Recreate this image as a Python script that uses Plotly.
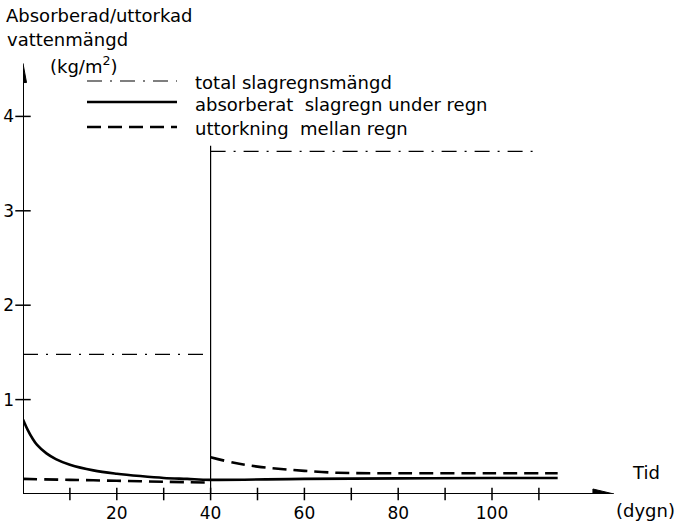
import plotly.graph_objects as go

# ---------------- data ----------------
total_days = [0, 40, None, 40, 110]
total_vals = [1.48, 1.48, None, 3.63, 3.63]

rain_days = [40, 40]
rain_span = [0, 3.69]

abs_days = [0, 1, 2, 3, 5, 7, 10, 15, 20, 25, 30, 35, 40, 60, 80, 100, 114]
abs_vals = [0.79, 0.68, 0.59, 0.52, 0.43, 0.37, 0.31, 0.25, 0.215, 0.19, 0.17,
            0.16, 0.15, 0.16, 0.165, 0.17, 0.17]

dry_days = [0, 10, 20, 30, 40, None, 40, 45, 50, 55, 60, 67, 80, 100, 114]
dry_vals = [0.16, 0.15, 0.14, 0.13, 0.12, None, 0.39, 0.33, 0.29, 0.265, 0.245,
            0.225, 0.22, 0.22, 0.22]

x_tick_marks = [10, 20, 30, 40, 50, 60, 70, 80, 90, 100, 110]
x_tick_labels = [20, 40, 60, 80, 100]
y_tick_marks = [1, 2, 3, 4]
x_axis_end = 126
y_axis_end = 4.56

series_names = ["total slagregnsmängd",
                "absorberat  slagregn under regn",
                "uttorkning  mellan regn"]

# ---------------- layout helpers ----------------
W, H = 677, 522
L, B = 23, 28
PW, PH = W - L, H - B
XSCALE, YSCALE = 4.69, 94.4
FONT = "DejaVu Sans"


def px(p):
    return (p - L) / PW


def py(p):
    return (PH - p) / PH


fig = go.Figure()

fig.add_trace(go.Scatter(x=total_days, y=total_vals, mode="lines",
                         line=dict(color="black", width=1.2, dash="15px,8px,2px,8px"),
                         name=series_names[0], showlegend=False, connectgaps=False))
fig.add_trace(go.Scatter(x=rain_days, y=rain_span, mode="lines",
                         line=dict(color="black", width=1.2),
                         showlegend=False, hoverinfo="skip"))
fig.add_trace(go.Scatter(x=abs_days, y=abs_vals, mode="lines",
                         line=dict(color="black", width=2.6, shape="spline"),
                         name=series_names[1], showlegend=False))
fig.add_trace(go.Scatter(x=dry_days, y=dry_vals, mode="lines",
                         line=dict(color="black", width=2.6, dash="14px,7px", shape="spline"),
                         name=series_names[2], showlegend=False, connectgaps=False))

# tick marks crossing the axes
fig.add_trace(go.Scatter(x=x_tick_marks, y=[0] * len(x_tick_marks), mode="markers",
                         marker=dict(symbol="line-ns", size=9, line=dict(color="black", width=1.5)),
                         showlegend=False, hoverinfo="skip", cliponaxis=False))
fig.add_trace(go.Scatter(x=[0] * len(y_tick_marks), y=y_tick_marks, mode="markers",
                         marker=dict(symbol="line-ew", size=11, line=dict(color="black", width=1.5)),
                         showlegend=False, hoverinfo="skip", cliponaxis=False))

# axes lines
fig.add_shape(type="line", x0=0, y0=0, x1=x_axis_end - 2, y1=0, xref="x", yref="y",
              line=dict(color="black", width=2))
fig.add_shape(type="line", x0=0, y0=0, x1=0, y1=y_axis_end - 0.1, xref="x", yref="y",
              line=dict(color="black", width=2))
# arrowheads
fig.add_shape(type="path", xref="x", yref="y", xsizemode="pixel", ysizemode="pixel",
              xanchor=x_axis_end, yanchor=0, path="M0,0 L-21,5 L-21,-5 Z",
              fillcolor="black", line=dict(color="black", width=1))
fig.add_shape(type="path", xref="x", yref="y", xsizemode="pixel", ysizemode="pixel",
              xanchor=0, yanchor=y_axis_end, path="M0,0 L-3.5,-19 L3.5,-19 Z",
              fillcolor="black", line=dict(color="black", width=1))

# legend (drawn)
leg_rows = [81, 102, 127]
leg_dash = ["15px,8px,2px,8px", "solid", "14px,7px"]
leg_w = [1.2, 2.6, 2.6]
text_rows = [82, 104, 128]
for i in range(3):
    fig.add_shape(type="line", xref="paper", yref="paper",
                  x0=px(87), x1=px(177), y0=py(leg_rows[i]), y1=py(leg_rows[i]),
                  line=dict(color="black", width=leg_w[i], dash=leg_dash[i]))
    fig.add_annotation(text=series_names[i], xref="paper", yref="paper",
                       x=px(193), y=py(text_rows[i]), xanchor="left", yanchor="middle",
                       showarrow=False, font=dict(family=FONT, size=18, color="black"))


def label(text, x, y, size=18):
    fig.add_annotation(text=text, xref="paper", yref="paper", x=px(x), y=py(y),
                       xanchor="left", yanchor="middle", showarrow=False,
                       font=dict(family=FONT, size=size, color="black"))


label("Absorberad/uttorkad", 4, 16)
label("vattenmängd", 5, 40)
label("(kg/m<sup>2</sup>)", 48, 65)
label("Tid", 630, 472)
label("(dygn)", 614, 511)

fig.update_layout(
    width=W, height=H,
    margin=dict(l=L, r=0, t=0, b=B, autoexpand=False),
    paper_bgcolor="white", plot_bgcolor="white",
    xaxis=dict(range=[0, PW / XSCALE], showgrid=False, zeroline=False, showline=False,
               automargin=False,
               tickvals=x_tick_labels, ticktext=[str(v) for v in x_tick_labels],
               ticks="", ticklabelstandoff=7,
               tickfont=dict(family=FONT, size=17, color="black")),
    yaxis=dict(range=[0, PH / YSCALE], showgrid=False, zeroline=False, showline=False,
               automargin=False,
               tickvals=y_tick_marks, ticktext=[str(v) for v in y_tick_marks],
               ticks="", ticklabelstandoff=8,
               tickfont=dict(family=FONT, size=17, color="black")),
    showlegend=False,
)

fig.write_html("out.html", config={"displayModeBar": False},
               post_script="document.body.style.margin='0';document.body.style.overflow='hidden';")
